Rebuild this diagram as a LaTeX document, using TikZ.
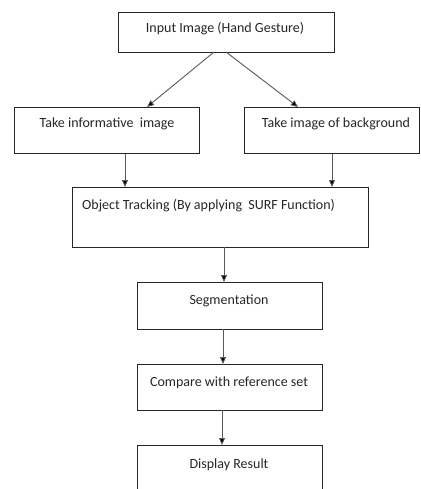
\documentclass[tikz,border=0pt]{standalone}
\usepackage{fontspec}
\setmainfont{Carlito}
\usetikzlibrary{arrows.meta,calc}
\begin{document}
\begin{tikzpicture}[x=1pt,y=-1pt,
  box/.style={draw=black!85,line width=0.9pt,rectangle,inner sep=0pt,anchor=north west},
  lbl/.style={font=\fontsize{14}{16}\selectfont,text=black!85,inner sep=0pt,anchor=base},
  arr/.style={draw=black!65,line width=0.9pt,-{Triangle[length=7pt,width=6pt,fill=black]}}]
\useasboundingbox (0,0) rectangle (420,489);
\clip (0,0) rectangle (420,489);
\fill[white] (0,0) rectangle (420,489);
% boxes
\node[box,minimum width=216pt,minimum height=40pt] (b1) at (118,12) {};
\node[box,minimum width=185pt,minimum height=46pt] (b2) at (14,107) {};
\node[box,minimum width=175pt,minimum height=46pt] (b3) at (244,107) {};
\node[box,minimum width=296pt,minimum height=60pt] (b4) at (72,187) {};
\node[box,minimum width=185pt,minimum height=47pt] (b5) at (137,282) {};
\node[box,minimum width=185pt,minimum height=46pt] (b6) at (137,364) {};
\node[box,minimum width=185pt,minimum height=60pt] (b7) at (137,445) {};
% labels
\node[lbl] (t1) at (225,33) {Input Image (Hand Gesture)};
\node[lbl] (t2) at (107,128) {Take informative\ \ image};
\node[lbl] (t3) at (336,128) {Take image of background};
\node[lbl,anchor=base west] (t4) at (82,209) {Object Tracking (By applying\ \ SURF Function)};
\node[lbl] (t5) at (229,304) {Segmentation};
\node[lbl] (t6) at (229,386) {Compare with\ reference set};
\node[lbl] (t7) at (229,468) {Display Result};
% connectors
\coordinate (a1s) at (214,52); \coordinate (a1e) at (147,107);
\coordinate (a2s) at (226,52); \coordinate (a2e) at (298,107);
\draw[arr] (a1s) -- (a1e);
\draw[arr] (a2s) -- (a2e);
\draw[arr] (b2.south west) ++(111,0) coordinate (c2) -- (c2 |- b4.north);
\draw[arr] (b3.south west) ++(88,0) coordinate (c3) -- (c3 |- b4.north);
\draw[arr] (224,247) coordinate (c4) -- (c4 |- b5.north);
\draw[arr] (223,329) coordinate (c5) -- (c5 |- b6.north);
\draw[arr] (222,410) coordinate (c6) -- (c6 |- b7.north);
\end{tikzpicture}
\end{document}
